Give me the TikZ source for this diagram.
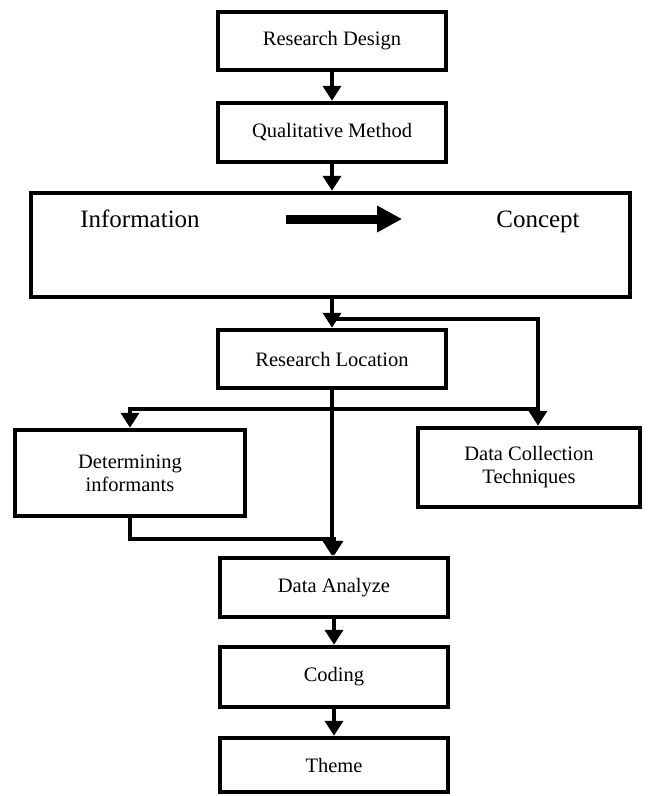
\documentclass[tikz,border=0pt]{standalone}
\usepackage{fontspec}
\setmainfont{Liberation Serif}
\usetikzlibrary{arrows.meta}

\tikzset{
	box/.style={draw, line width=4.5pt, inner sep=0pt, align=center,
		minimum width=228pt, minimum height=58pt,
		font=\fontsize{20.5}{23}\selectfont},
	link/.style={line width=4pt, -{Triangle[width=18pt,length=15pt]}},
	bigarrow/.style={line width=9pt, -{Triangle[width=25pt,length=25pt]}},
	word/.style={inner sep=0pt, anchor=base, font=\fontsize{25}{28}\selectfont},
}

\begin{document}
\begin{tikzpicture}[x=1pt, y=-1pt]
	\useasboundingbox (0, 0) rectangle (652, 796);

	\node [box] (design) at (332, 41) {Research Design};
	\node [box, minimum height=59pt] (method) at (332, 132.5) {Qualitative Method};
	\node [box, minimum width=599pt, minimum height=104pt] (frame) at (330.5, 245) {};
	\node [word] (info) at (140, 227) {Information};
	\node [word] (concept) at (538, 227) {Concept};
	\node [box] (location) at (332, 359) {Research Location};
	\node [box, minimum width=230pt, minimum height=86pt] (informants) at (130, 473) {Determining\\informants};
	\node [box, minimum width=222pt, minimum height=79pt] (techniques) at (529, 467.5) {Data Collection\\Techniques};
	\node [box, minimum height=59pt] (analyze) at (334, 587.5) {Data Analyze};
	\node [box, minimum height=60pt] (coding) at (334, 677) {Coding};
	\node [box, minimum height=54pt] (theme) at (334, 765) {Theme};

	\draw [bigarrow] ([xshift=86pt, yshift=8pt]info.base east) -- ([xshift=-94pt, yshift=8pt]concept.base west);

	\draw [link] (design) -- (method);
	\draw [link] (method) -- (method |- frame.north);
	\draw [link] (location |- frame.south) -- (location);

	\coordinate (split) at ([yshift=9]location.north);
	\draw [link] (split) -| ([xshift=9]techniques.north);
	\coordinate (fork) at ([xshift=9]techniques.north |- 0, 409);
	\draw [link] (fork) -| (informants.north);

	\draw [link] (location) -- (location.south |- analyze.north);
	\draw [link] (informants.south) -- ++(0, 21) -| (analyze.north);
	\draw [link] (analyze) -- (coding);
	\draw [link] (coding) -- (theme);
\end{tikzpicture}
\end{document}
